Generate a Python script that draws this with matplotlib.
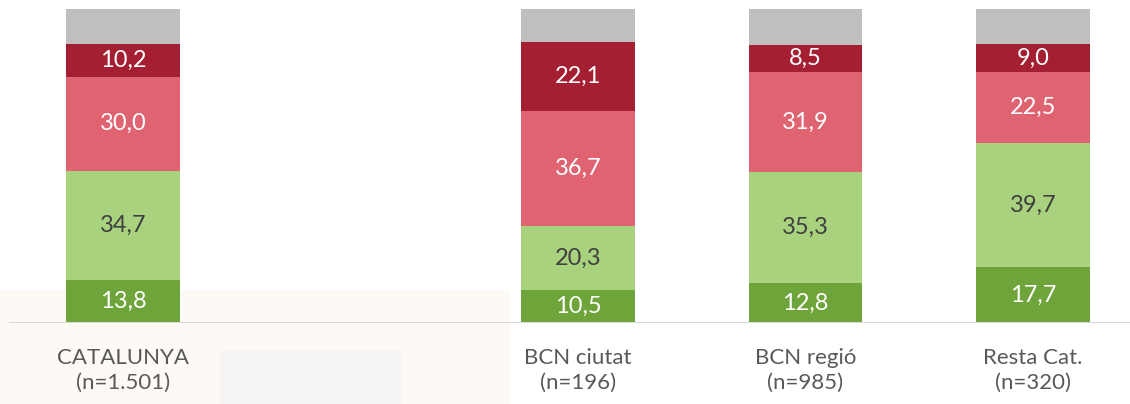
import numpy as np
import matplotlib.pyplot as plt
from matplotlib.patches import Rectangle

plt.rcParams['font.family'] = ['Lato', 'DejaVu Sans']

categories = ['CATALUNYA\n(n=1.501)', 'BCN ciutat\n(n=196)', 'BCN regió\n(n=985)', 'Resta Cat.\n(n=320)']
positions = [0, 2, 3, 4]
s1 = [13.8, 10.5, 12.8, 17.7]   # verd fosc
s2 = [34.7, 20.3, 35.3, 39.7]   # verd clar
s3 = [30.0, 36.7, 31.9, 22.5]   # rosa
s4 = [10.2, 22.1, 8.5, 9.0]     # vermell fosc
series = [s1, s2, s3, s4]
rest = [100 - a - b - c - d for a, b, c, d in zip(s1, s2, s3, s4)]

colors = ['#6fa43a', '#a9d27e', '#e06372', '#a41f31', '#bfbfbf']
text_colors = ['white', '#404040', 'white', 'white']

fig = plt.figure(figsize=(11.3, 4.04), dpi=100)
# fons (marca d'aigua suau)
fig.patches.append(Rectangle((0, 0), 0.45, 0.28, transform=fig.transFigure,
                             color='#fdf9f5', zorder=-10))
fig.patches.append(Rectangle((0.195, 0), 0.16, 0.13, transform=fig.transFigure,
                             color='#f6f5f4', zorder=-9))

ax = fig.add_axes([0, (404 - 323) / 404, 1, 314 / 404])
ax.patch.set_alpha(0)

bottom = np.zeros(len(positions))
for vals, c, tc in zip(series, colors, text_colors):
    ax.bar(positions, vals, 0.5, bottom=bottom, color=c, linewidth=0)
    for x, b, v in zip(positions, bottom, vals):
        ax.text(x, b + v / 2, f'{v:.1f}'.replace('.', ','), ha='center', va='center',
                color=tc, fontsize=17)
    bottom += np.array(vals)
ax.bar(positions, rest, 0.5, bottom=bottom, color=colors[4], linewidth=0)

ax.set_xlim(-123 / 227.5, (1130 - 123) / 227.5)
ax.set_ylim(0, 100)
ax.axhline(0, xmin=10 / 1130, xmax=1, color='#d9d9d9', linewidth=1.5, zorder=5)

for s in ax.spines.values():
    s.set_visible(False)
ax.set_yticks([])
ax.set_xticks(positions)
ax.set_xticklabels(categories, fontsize=16, color='#595959', linespacing=1.3)
ax.tick_params(axis='x', length=0, pad=18)

fig.savefig('out.png', dpi=100)
